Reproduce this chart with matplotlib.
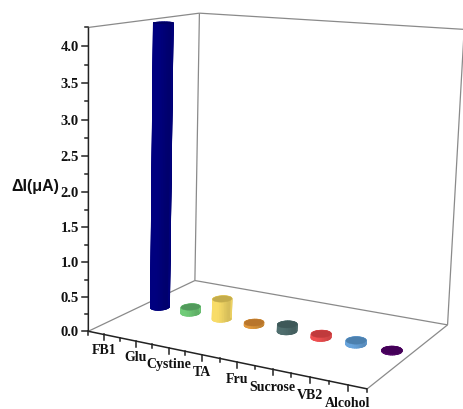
import numpy as np, matplotlib
matplotlib.use("Agg")
import matplotlib.pyplot as plt
from matplotlib.collections import PolyCollection

categories = ["FB1", "Glu", "Cystine", "TA", "Fru", "Sucrose", "VB2", "Alcohol"]
values = [4.22, 0.09, 0.30, 0.035, 0.10, 0.055, 0.055, 0.015]
side_colors = ["#00007f", "#70cc78", "#f8dc68", "#e0983c", "#4f6e6e", "#ee4f50", "#68a4dc", "#56086c"]
top_colors = ["#000064", "#529a5c", "#c4ac4c", "#b8752c", "#3e5858", "#c03a3c", "#4c80ae", "#440058"]
z_major = [0.0, 0.5, 1.0, 1.5, 2.0, 2.5, 3.0, 3.5, 4.0]
z_minor = [0.25, 0.75, 1.25, 1.75, 2.25, 2.75, 3.25, 3.75, 4.25]

XMIN, XMAX, ZMAX = 0.5, 8.5, 4.25
DEPTH, RX, RY = 0.5, 0.25, 0.055

# box corners on screen, used to fit the camera: (x, depth, z) -> pixel
corners = [((XMIN, 0, 0), (88, 331.5)), ((XMAX, 0, 0), (368, 388)),
           ((XMIN, 1, 0), (195, 280)), ((XMAX, 1, 0), (447, 326)),
           ((XMIN, 0, ZMAX), (88, 28)), ((XMIN, 1, ZMAX), (200, 13)),
           ((XMAX, 1, ZMAX), (464, 29))]
A, b = [], []
for (x, y, z), (u, v) in corners:
    A.append([x, y, z, 1, 0, 0, 0, 0, -u*x, -u*y, -u*z]); b.append(u)
    A.append([0, 0, 0, 0, x, y, z, 1, -v*x, -v*y, -v*z]); b.append(v)
P = np.append(np.linalg.lstsq(np.array(A, float), np.array(b, float), rcond=None)[0], 1).reshape(3, 4)

def proj(x, y, z):
    x, y, z = np.broadcast_arrays(x, y, z)
    q = P @ np.vstack([x.ravel(), y.ravel(), z.ravel(), np.ones(x.size)])
    return q[0]/q[2], q[1]/q[2]

def line3d(ax, a, c, **kw):
    u, v = proj(*np.array([a, c], float).T)
    ax.plot(u, v, solid_capstyle="butt", **kw)

def shade(col, f):
    return tuple(np.clip(np.array(matplotlib.colors.to_rgb(col))*f, 0, 1))

def cylinder(ax, xc, h, side, top):
    t = np.linspace(0, 2*np.pi, 37)
    cx, cy = xc + RX*np.cos(t), DEPTH + RY*np.sin(t)
    bu, bv = proj(cx, cy, 0*t)
    tu, tv = proj(cx, cy, h + 0*t)
    # solid silhouette first so the strips leave no seams
    ax.fill(np.r_[bu, tu], np.r_[bv, tv], color=side, lw=0.6, zorder=3)
    polys, cols = [], []
    for i in range(36):
        polys.append([(bu[i], bv[i]), (bu[i+1], bv[i+1]), (tu[i+1], tv[i+1]), (tu[i], tv[i])])
        a = (t[i] + t[i+1])/2
        cols.append(shade(side, 1.0 - 0.14*max(np.cos(a), 0)**2))
    ax.add_collection(PolyCollection(polys, facecolors=cols, edgecolors=cols, linewidths=0.6, zorder=3))
    ax.fill(tu, tv, color=top, lw=0.3, zorder=4)

fig = plt.figure(figsize=(4.64, 4.09), dpi=100)
ax = fig.add_axes([0, 0, 1, 1])
ax.set_xlim(0, 464); ax.set_ylim(409, 0); ax.axis("off")

# walls and floor outline
grey = dict(color="#8a8a8a", lw=0.9, zorder=1)
line3d(ax, (XMIN, 0, 0), (XMIN, 1, 0), **grey)
line3d(ax, (XMIN, 1, 0), (XMAX, 1, 0), **grey)
line3d(ax, (XMAX, 0, 0), (XMAX, 1, 0), **grey)
line3d(ax, (XMIN, 1, 0), (XMIN, 1, ZMAX), **grey)
line3d(ax, (XMAX, 1, 0), (XMAX, 1, ZMAX), **grey)
line3d(ax, (XMIN, 0, ZMAX), (XMIN, 1, ZMAX), **grey)
line3d(ax, (XMIN, 1, ZMAX), (XMAX, 1, ZMAX), **grey)

# value axis
dark = dict(color="#222222", lw=1.1, zorder=2)
line3d(ax, (XMIN, 0, 0), (XMIN, 0, ZMAX), **dark)
line3d(ax, (XMIN, 0, 0), (XMAX, 0, 0), **dark)
serif = dict(family="Liberation Serif", fontweight="bold", color="#111111")
for z in z_major:
    u, v = proj(XMIN, 0, z)
    ax.plot([u[0]-6.5, u[0]], [v[0], v[0]], **dark)
    ax.text(u[0]-9.5, v[0], f"{z:.1f}", ha="right", va="center_baseline", fontsize=10.5, **serif)
for z in z_minor:
    u, v = proj(XMIN, 0, z)
    ax.plot([u[0]-3.5, u[0]], [v[0], v[0]], **dark)

# category axis
for i, name in enumerate(categories):
    u, v = proj(i + 1, 0, 0)
    ax.plot([u[0], u[0]], [v[0], v[0]+6], **dark)
    ax.text(u[0], v[0] + 10 + i*0.25, name, ha="center", va="top", fontsize=10, **serif)
    u, v = proj(i + 1.5, 0, 0)
    ax.plot([u[0], u[0]], [v[0], v[0]+3.5], **dark)
u, v = proj(XMIN, 0, 0)
ax.plot([u[0], u[0]], [v[0], v[0]+3.5], **dark)

for i, h in enumerate(values):
    cylinder(ax, i + 1, h, side_colors[i], top_colors[i])

ax.text(11.5, 186, "ΔI(μA)", family="Liberation Sans", fontweight="bold", fontsize=11.5, color="#111111", va="center", ha="left")
fig.savefig("out.png", dpi=100)
